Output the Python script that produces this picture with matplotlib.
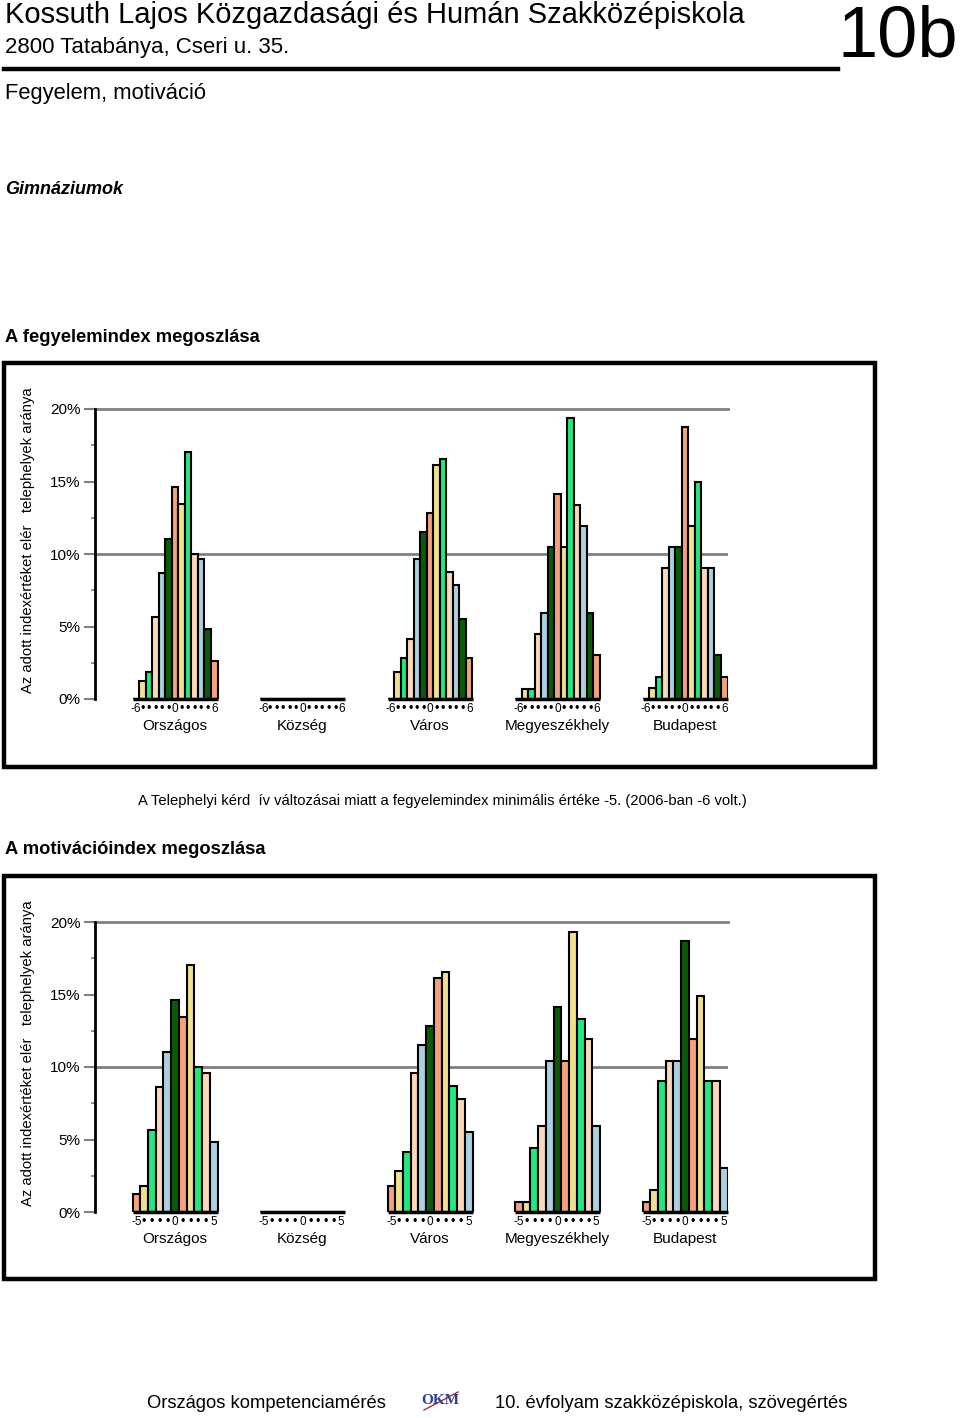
import matplotlib
matplotlib.use("Agg")
import matplotlib.pyplot as plt
from matplotlib.patches import Rectangle
from matplotlib.ticker import MultipleLocator, FuncFormatter

plt.rcParams['font.family'] = ['Liberation Sans', 'DejaVu Sans']

# csoportok
groups = ["Országos", "Község", "Város", "Megyeszékhely", "Budapest"]

# fegyelemindex -6..6
fegy_values = list(range(-6, 7))
fegy_orszagos = [0, 1.24, 1.84, 5.66, 8.67, 11.06, 14.64, 13.43, 17.06, 10.02, 9.66, 4.85, 2.64]
fegy_kozseg = [0, 0, 0, 0, 0, 0, 0, 0, 0, 0, 0, 0, 0]
fegy_varos = [0, 1.84, 2.85, 4.16, 9.63, 11.54, 12.85, 16.14, 16.55, 8.74, 7.84, 5.54, 2.85]
fegy_megye = [0, 0.7, 0.7, 4.46, 5.95, 10.48, 14.14, 10.46, 19.36, 13.36, 11.95, 5.95, 3.03]
fegy_budapest = [0, 0.74, 1.54, 9.01, 10.46, 10.46, 18.74, 11.93, 14.94, 9.01, 9.01, 3.03, 1.54]

# motivacioindex -5..5
mot_values = list(range(-5, 6))
mot_orszagos = [1.22, 1.82, 5.63, 8.62, 11.01, 14.62, 13.43, 17.03, 10.02, 9.61, 4.83]
mot_kozseg = [0, 0, 0, 0, 0, 0, 0, 0, 0, 0, 0]
mot_varos = [1.82, 2.80, 4.11, 9.61, 11.54, 12.83, 16.11, 16.53, 8.71, 7.82, 5.52]
mot_megye = [0.71, 0.71, 4.41, 5.91, 10.41, 14.14, 10.41, 19.31, 13.31, 11.93, 5.91]
mot_budapest = [0.71, 1.49, 9.01, 10.41, 10.41, 18.71, 11.91, 14.92, 9.01, 9.01, 3.03]

colors = ["#F4A27E", "#F0E08E", "#22E87E", "#FAD8B8", "#A9D1E1", "#0A5A0A"]

W, H = 960, 1418
fig = plt.figure(figsize=(W / 100, H / 100), dpi=100)


def fy(py):
    return 1 - py / H


def fx(px):
    return px / W


# fejlec
fig.text(fx(5), fy(15), "Kossuth Lajos Közgazdasági és Humán Szakközépiskola", fontsize=21, va='center', ha='left')
fig.text(fx(5), fy(47), "2800 Tatabánya, Cseri u. 35.", fontsize=16, va='center', ha='left')
fig.text(fx(958), fy(38), "10b", fontsize=52, va='center', ha='right')
fig.add_artist(plt.Line2D([fx(4), fx(838)], [fy(69), fy(69)], color='black', lw=3.2))
fig.text(fx(5), fy(93), "Fegyelem, motiváció", fontsize=15.8, va='center', ha='left')
fig.text(fx(5), fy(190), "Gimnáziumok", fontsize=13, va='center', ha='left', fontweight='bold', fontstyle='italic')
fig.text(fx(5), fy(337), "A fegyelemindex megoszlása", fontsize=13.2, va='center', ha='left', fontweight='bold')
fig.text(fx(138), fy(801), "A Telephelyi kérd  ív változásai miatt a fegyelemindex minimális értéke -5. (2006-ban -6 volt.)",
         fontsize=10.6, va='center', ha='left')
fig.text(fx(5), fy(850), "A motivációindex megoszlása", fontsize=13.2, va='center', ha='left', fontweight='bold')

# lablec
fig.text(fx(147), fy(1403), "Országos kompetenciamérés", fontsize=13.2, va='center', ha='left')
fig.text(fx(440), fy(1400), "OKM", fontsize=11, va='center', ha='center', color='#2C3E9A',
         family=['Liberation Serif'], fontweight='bold')
fig.add_artist(plt.Line2D([fx(424), fx(458)], [fy(1410), fy(1392)], color='#B03030', lw=1))
fig.text(fx(495), fy(1403), "10. évfolyam szakközépiskola, szövegértés", fontsize=13.2, va='center', ha='left')


def draw_chart(box_top, box_bottom, axis_top, axis_bottom, data, values):
    fig.add_artist(Rectangle((fx(4), fy(box_bottom)), fx(875) - fx(4), fy(box_top) - fy(box_bottom),
                             transform=fig.transFigure, fill=False, edgecolor='black', lw=3.2))
    ax = fig.add_axes([fx(95), fy(axis_bottom), fx(728) - fx(95), fy(axis_top) - fy(axis_bottom)])
    ax.set_xlim((95 - 175) / 127.5, (728 - 175) / 127.5)
    ax.set_ylim(0, 20)
    for s in ['top', 'right', 'bottom']:
        ax.spines[s].set_visible(False)
    ax.spines['left'].set_linewidth(2)
    ax.spines['left'].set_zorder(5)
    ax.axhline(10, color='#808080', lw=2, zorder=0)
    ax.axhline(20, color='#808080', lw=2, zorder=0, clip_on=False)
    ax.yaxis.set_major_locator(MultipleLocator(5))
    ax.yaxis.set_minor_locator(MultipleLocator(2.5))
    ax.yaxis.set_major_formatter(FuncFormatter(lambda v, _: f'{v:.0f}%'))
    ax.tick_params(axis='y', which='major', direction='out', length=8, width=1.5, color='#808080',
                   labelsize=11, pad=2.5)
    ax.tick_params(axis='y', which='minor', direction='out', length=3, width=1.2, color='#808080')
    ax.set_xticks([])

    span = 85 / 127.5
    n = len(values)
    for g, vals in enumerate(data):
        w = span / n
        start = g - span / 2
        xs = [start + (k + 0.5) * w for k in range(n)]
        cols = [colors[k % len(colors)] for k in range(n)]
        ax.bar(xs, vals, width=w, color=cols, edgecolor='black', linewidth=1.5, zorder=3)
        ax.plot([start, start + span], [0, 0], color='black', lw=2.5, zorder=4, solid_capstyle='butt',
                clip_on=False)
        for x, v in zip(xs, values):
            if v == values[0] or v == 0 or v == values[-1]:
                ax.text(x, -0.68, str(v), fontsize=8.5, ha='center', va='center', clip_on=False)
            else:
                ax.text(x, -0.68, "\u2022", fontsize=9, ha='center', va='center', clip_on=False)
        ax.text(g, -1.85, groups[g], fontsize=11, ha='center', va='center', clip_on=False)

    cy = (axis_top + axis_bottom) / 2 - 14
    fig.text(fx(28), fy(cy), "Az adott indexértéket elér   telephelyek aránya", rotation=90,
             fontsize=10.6, ha='center', va='center')
    return ax


draw_chart(363, 767, 409, 699,
           [fegy_orszagos, fegy_kozseg, fegy_varos, fegy_megye, fegy_budapest], fegy_values)
draw_chart(876, 1279, 922, 1212,
           [mot_orszagos, mot_kozseg, mot_varos, mot_megye, mot_budapest], mot_values)

fig.savefig("out.png", dpi=100)
